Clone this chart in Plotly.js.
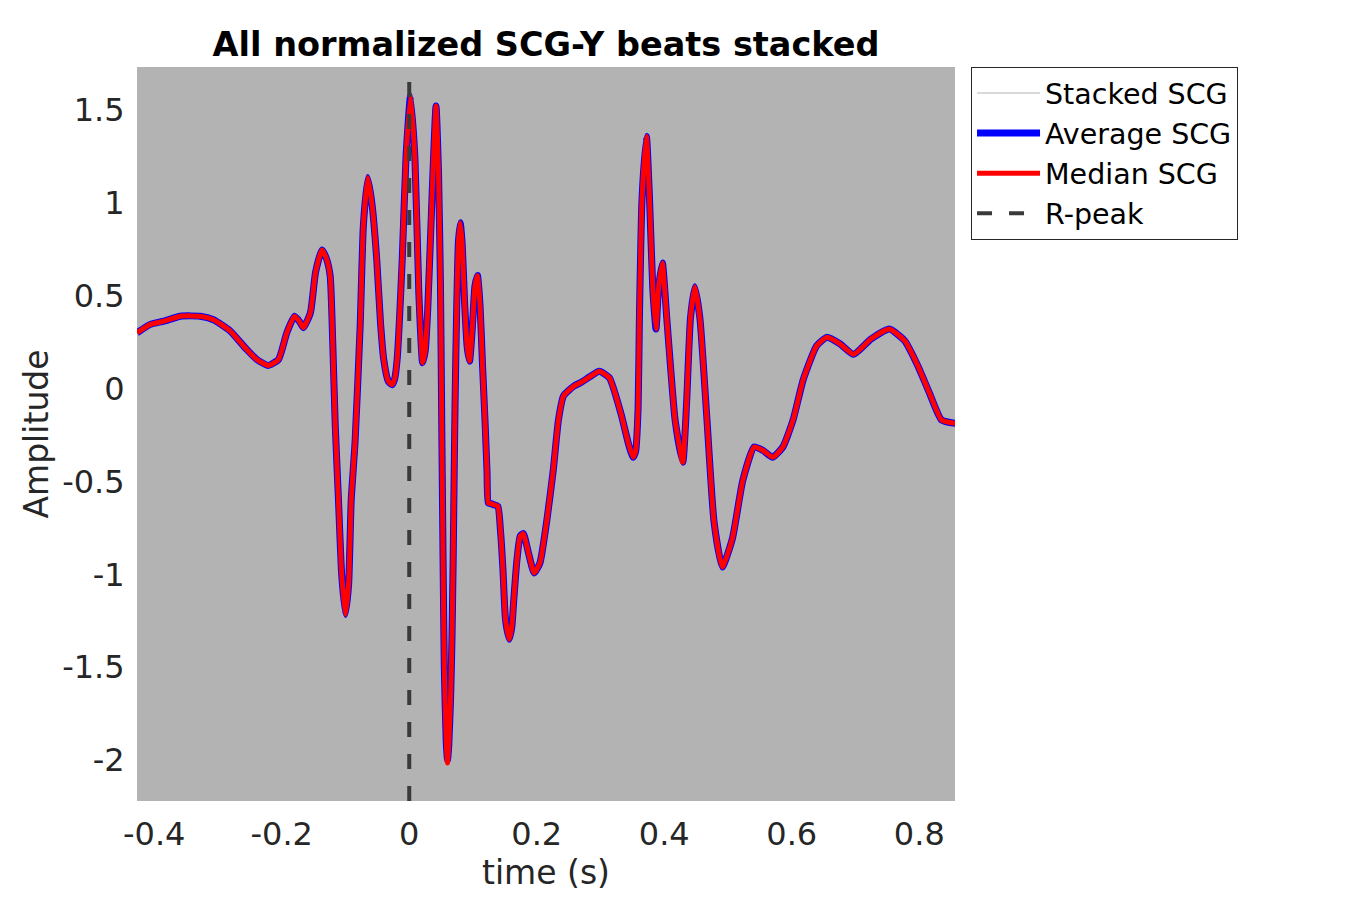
<!DOCTYPE html>
<html>
<head>
<meta charset="utf-8">
<script src="https://cdn.plot.ly/plotly-3.0.1.min.js"></script>
<style>html,body{margin:0;padding:0;background:#fff;}#chart{width:1350px;height:900px;}</style>
</head>
<body>
<div id="chart"></div>
<script>
// time (s)
const time = [-0.427,-0.406,-0.385,-0.359,-0.328,-0.307,-0.281,-0.255,-0.239,-0.221,-0.205,-0.192,-0.180,-0.172,-0.166,-0.155,-0.147,-0.137,-0.130,-0.124,-0.120,-0.116,-0.111,-0.106,-0.100,-0.095,-0.091,-0.085,-0.077,-0.072,-0.065,-0.058,-0.051,-0.045,-0.040,-0.033,-0.027,-0.023,-0.019,-0.011,-0.005,0.002,0.009,0.015,0.021,0.025,0.029,0.036,0.042,0.046,0.049,0.051,0.053,0.055,0.058,0.060,0.062,0.065,0.067,0.069,0.0705,0.072,0.074,0.077,0.080,0.083,0.087,0.091,0.0946,0.099,0.103,0.107,0.111,0.115,0.119,0.122,0.124,0.128,0.132,0.139,0.143,0.147,0.151,0.157,0.161,0.164,0.169,0.174,0.179,0.187,0.196,0.205,0.216,0.226,0.234,0.242,0.258,0.268,0.282,0.298,0.314,0.332,0.344,0.351,0.355,0.359,0.361,0.365,0.372,0.377,0.382,0.387,0.391,0.397,0.404,0.417,0.429,0.435,0.441,0.448,0.456,0.467,0.478,0.491,0.507,0.523,0.541,0.555,0.570,0.586,0.602,0.618,0.639,0.655,0.676,0.697,0.724,0.753,0.777,0.798,0.816,0.835,0.861];
// Average SCG amplitude
const averageSCG = [0.30,0.345,0.362,0.389,0.389,0.37,0.31,0.21,0.156,0.124,0.156,0.30,0.389,0.36,0.327,0.408,0.624,0.745,0.70,0.605,0.25,-0.203,-0.6,-1.0,-1.217,-1.05,-0.6,-0.29,0.335,0.874,1.135,0.98,0.695,0.35,0.156,0.04,0.02,0.05,0.156,0.695,1.25,1.574,1.233,0.515,0.138,0.2,0.425,1.054,1.52,1.15,0.55,-0.2,-0.9,-1.5,-1.9,-2.0,-1.92,-1.65,-1.35,-0.9,-0.45,-0.05,0.354,0.78,0.892,0.78,0.45,0.22,0.147,0.33,0.55,0.608,0.45,0.12,-0.185,-0.45,-0.616,-0.62,-0.625,-0.634,-0.76,-0.975,-1.244,-1.35,-1.28,-1.136,-0.92,-0.795,-0.781,-0.885,-0.993,-0.939,-0.705,-0.436,-0.17,-0.04,0.012,0.03,0.06,0.093,0.057,-0.134,-0.30,-0.37,-0.34,-0.1,0.375,1.011,1.356,1.011,0.538,0.32,0.538,0.675,0.375,-0.17,-0.397,-0.079,0.375,0.548,0.375,-0.17,-0.716,-0.961,-0.806,-0.497,-0.315,-0.334,-0.37,-0.315,-0.17,0.048,0.23,0.275,0.239,0.184,0.266,0.32,0.257,0.12,-0.025,-0.17,-0.19];
// Median SCG amplitude
const medianSCG = [0.30,0.345,0.362,0.389,0.389,0.37,0.31,0.21,0.156,0.124,0.156,0.30,0.389,0.36,0.327,0.408,0.624,0.745,0.70,0.605,0.25,-0.203,-0.6,-1.0,-1.217,-1.05,-0.6,-0.29,0.335,0.874,1.135,0.98,0.695,0.35,0.156,0.04,0.02,0.05,0.156,0.695,1.25,1.574,1.233,0.515,0.138,0.2,0.425,1.054,1.52,1.15,0.55,-0.2,-0.9,-1.5,-1.9,-2.016,-1.92,-1.65,-1.35,-0.9,-0.45,-0.05,0.354,0.78,0.892,0.78,0.45,0.22,0.147,0.33,0.55,0.608,0.45,0.12,-0.185,-0.45,-0.616,-0.62,-0.625,-0.634,-0.76,-0.975,-1.244,-1.35,-1.28,-1.136,-0.92,-0.795,-0.781,-0.885,-0.993,-0.939,-0.705,-0.436,-0.17,-0.04,0.012,0.03,0.06,0.093,0.057,-0.134,-0.30,-0.37,-0.34,-0.1,0.375,1.011,1.356,1.011,0.538,0.32,0.538,0.675,0.375,-0.17,-0.397,-0.079,0.375,0.548,0.375,-0.17,-0.716,-0.961,-0.806,-0.497,-0.315,-0.334,-0.37,-0.315,-0.17,0.048,0.23,0.275,0.239,0.184,0.266,0.32,0.257,0.12,-0.025,-0.17,-0.19];
// R-peak marker
const rpeakTime = [0, 0];
const rpeakAmp = [-2.22, 1.66];
const xTicks = [-0.4,-0.2,0,0.2,0.4,0.6,0.8];
const xTickLabels = ['-0.4','-0.2','0','0.2','0.4','0.6','0.8'];
const yTicks = [-2,-1.5,-1,-0.5,0,0.5,1,1.5];
const yTickLabels = ['-2','-1.5','-1','-0.5','0','0.5','1','1.5'];

const F = 'DejaVu Sans, sans-serif';
const traces = [
  {x:[null], y:[null], type:'scatter', mode:'lines', name:'Stacked SCG',
   line:{color:'#b3b3b3', width:1}},
  {x:time, y:averageSCG, type:'scatter', mode:'lines', name:'Average SCG',
   line:{color:'#0000ff', width:7, shape:'spline', smoothing:0.5}},
  {x:time, y:medianSCG, type:'scatter', mode:'lines', name:'Median SCG',
   line:{color:'#ff0000', width:5, shape:'spline', smoothing:0.5}},
  {x:rpeakTime, y:rpeakAmp, type:'scatter', mode:'lines', name:'R-peak',
   line:{color:'#3a3a3a', width:4, dash:'15px,17px'}}
];
const layout = {
  width:1350, height:900,
  margin:{l:137, r:395, t:67, b:99, pad:0},
  paper_bgcolor:'#ffffff', plot_bgcolor:'#b3b3b3',
  showlegend:true,
  title:{text:'<b>All normalized SCG-Y beats stacked</b>', font:{family:F, size:33.5, color:'#000'},
         x:0.5, xref:'paper', xanchor:'center', y:0.951, yanchor:'middle'},
  xaxis:{range:[-0.427,0.856], tickvals:xTicks, ticktext:xTickLabels, showgrid:false, zeroline:false,
         showline:false, ticks:'outside', ticklen:5, tickcolor:'rgba(0,0,0,0)',
         tickfont:{family:F, size:32, color:'#262626'},
         title:{text:'time (s)', font:{family:F, size:33, color:'#262626'}, standoff:4}},
  yaxis:{range:[-2.22,1.73], tickvals:yTicks, ticktext:yTickLabels, showgrid:false, zeroline:false,
         showline:false, ticks:'outside', ticklen:5, tickcolor:'rgba(0,0,0,0)',
         tickfont:{family:F, size:32, color:'#262626'},
         title:{text:'Amplitude', font:{family:F, size:33, color:'#262626'}, standoff:3}},
  legend:{x:1.0196, y:1, xanchor:'left', yanchor:'top', bgcolor:'#ffffff', bordercolor:'#262626',
          borderwidth:1, font:{family:F, size:28.5, color:'#000'}, itemwidth:63, tracegroupgap:0}
};
Plotly.newPlot('chart', traces, layout, {displayModeBar:false, staticPlot:true});
</script>
</body>
</html>
